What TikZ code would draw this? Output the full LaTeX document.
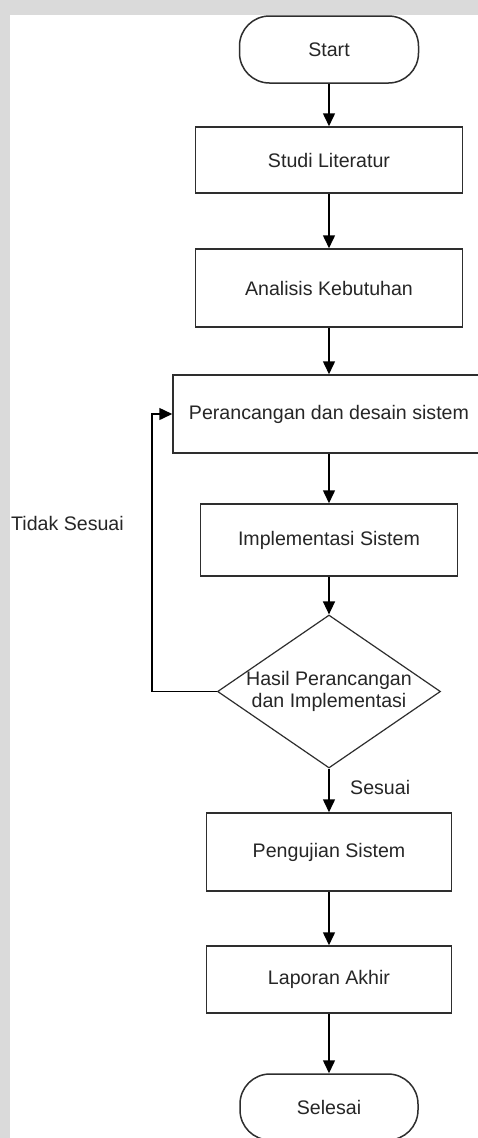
\documentclass[tikz,border=0pt]{standalone}
\usepackage{fontspec}
\setmainfont{Liberation Sans}
\usetikzlibrary{arrows.meta,shapes.geometric}
\definecolor{edge}{HTML}{2E2E2E}
\definecolor{ink}{HTML}{262626}
\definecolor{margin}{HTML}{DADADA}
\tikzset{
  procbox/.style={draw=edge, line width=1.5pt, fill=white, text=ink, rectangle,
    inner sep=0pt, font=\fontsize{19.6}{22}\selectfont},
  termbox/.style={procbox, rounded corners=30pt},
  decbox/.style={draw=edge, line width=1.2pt, fill=white, diamond, inner sep=0pt},
  plaintext/.style={text=ink, inner sep=0pt, font=\fontsize{19.6}{22}\selectfont},
  flow/.style={draw=black, line width=1.5pt, -{Triangle[width=12pt,length=13pt]}},
  flowline/.style={draw=black, line width=1.5pt}
}
\begin{document}
\begin{tikzpicture}[x=1pt,y=-1pt]
  \useasboundingbox (0,0) rectangle (478,1138);
  \clip (0,0) rectangle (478,1138);
  % page margins
  \fill[margin] (0,0) rectangle (478,1138);
  \fill[white] (10,15) rectangle (478,1138);

  % flowchart nodes
  \node[termbox, minimum width=179pt, minimum height=67pt] (start) at (329,49.5) {Start};
  \node[procbox, minimum width=267pt, minimum height=66pt] (studi) at (329,160) {Studi Literatur};
  \node[procbox, minimum width=267pt, minimum height=78pt] (analisis) at (329,288) {Analisis Kebutuhan};
  \node[procbox, minimum width=312pt, minimum height=78pt] (desain) at (329,414) {Perancangan dan desain sistem};
  \node[procbox, minimum width=257pt, minimum height=72pt] (impl) at (329,540) {Implementasi Sistem};
  \node[decbox, minimum width=223pt, minimum height=153pt] (cek) at (329,691.5) {};
  \node[plaintext, align=center] (cektext) at (cek.center) {Hasil Perancangan\\dan Implementasi};
  \node[procbox, minimum width=245pt, minimum height=78pt] (uji) at (329,852) {Pengujian Sistem};
  \node[procbox, minimum width=245pt, minimum height=67pt] (lapor) at (329,979.5) {Laporan Akhir};
  \node[termbox, minimum width=178pt, minimum height=66pt] (selesai) at (329,1107) {Selesai};

  % labels
  \node[plaintext, anchor=west] (tidak) at (11,523) {Tidak Sesuai};
  \node[plaintext, anchor=west] (sesuai) at (350,787) {Sesuai};

  % connectors
  \draw[flow] (start) -- (studi);
  \draw[flow] (studi) -- (analisis);
  \draw[flow] (analisis) -- (desain);
  \draw[flow] (desain) -- (impl);
  \draw[flow] (impl) -- (cek);
  \draw[flow] (cek) -- (uji);
  \draw[flow] (uji) -- (lapor);
  \draw[flow] (lapor) -- (selesai);
  \coordinate (loopx) at (152,0);
  \draw[flow] (cek.west) -- (loopx |- cek.west) -- (loopx |- desain.west) -- (desain.west);
\end{tikzpicture}
\end{document}
